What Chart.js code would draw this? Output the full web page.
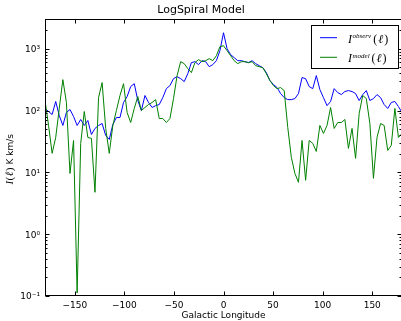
<!DOCTYPE html>
<html>
<head>
<meta charset="utf-8">
<script src="https://cdn.jsdelivr.net/npm/chart.js@4.4.0/dist/chart.umd.min.js"></script>
<style>
  html, body { margin: 0; padding: 0; overflow: hidden; background: #fff; }
  canvas { display: block; }
</style>
</head>
<body>
<canvas id="myChart" width="402" height="321"></canvas>
<script>
// galactic longitude grid (deg)
const longitudes = [
  -180, -176.4, -172.8, -169.2, -165.6, -162, -158.4, -154.8, -151.2, -147.6,
  -144, -140.4, -136.8, -133.2, -129.6, -126, -122.4, -118.8, -115.2, -111.6,
  -108, -104.4, -100.8, -97.2, -93.6, -90, -86.4, -82.8, -79.2, -75.6,
  -72, -68.4, -64.8, -61.2, -57.6, -54, -50.4, -46.8, -43.2, -39.6,
  -36, -32.4, -28.8, -25.2, -21.6, -18, -14.4, -10.8, -7.2, -3.6,
  0, 3.6, 7.2, 10.8, 14.4, 18, 21.6, 25.2, 28.8, 32.4,
  36, 39.6, 43.2, 46.8, 50.4, 54, 57.6, 61.2, 64.8, 68.4,
  72, 75.6, 79.2, 82.8, 86.4, 90, 93.6, 97.2, 100.8, 104.4,
  108, 111.6, 115.2, 118.8, 122.4, 126, 129.6, 133.2, 136.8, 140.4,
  144, 147.6, 151.2, 154.8, 158.4, 162, 165.6, 169.2, 172.8, 176.4,
  180
];

// integrated intensity, K km/s
const observed = [
  108, 96.4, 86.2, 140, 83, 57.3, 93, 104, 80, 57.3,
  71.6, 57.3, 69, 41, 51.3, 57.3, 61.7, 39.5, 34.1, 59.5,
  77.1, 77.1, 135, 168, 244, 272, 145, 100, 175, 135,
  112, 120, 125, 162, 226, 253, 328, 353, 328, 294,
  395, 595, 617, 552, 640, 617, 512, 552, 640, 929,
  1811, 1000, 800, 716, 640, 640, 617, 595, 640, 573,
  532, 494, 410, 305, 263, 235, 188, 162, 150, 150,
  156, 188, 341, 328, 244, 226, 367, 218, 162, 120,
  140, 226, 195, 181, 203, 210, 203, 188, 145, 181,
  210, 145, 156, 181, 162, 125, 108, 135, 140, 116,
  93
];

const model = [
  145, 57.3, 20.3, 36.7, 108, 316, 135, 9.6, 32.8, 0.112,
  29.4, 96.4, 36.7, 35.4, 4.76, 162, 283, 51.3, 20.3, 57.3,
  100, 175, 272, 93, 64, 108, 168, 100, 112, 125,
  135, 150, 74.3, 74.3, 64, 74.3, 156, 367, 617, 573,
  476, 410, 595, 665, 617, 640, 690, 640, 771, 1077,
  1117, 929, 771, 640, 573, 617, 617, 595, 617, 532,
  512, 494, 395, 305, 253, 226, 235, 210, 53.2, 17.5,
  9.6, 6.9, 32.8, 7.43, 32.8, 29.4, 21.8, 57.3, 42.6, 57.3,
  112, 51.3, 64, 64, 71.6, 24.4, 51.3, 16.8, 89.5, 175,
  156, 61.7, 8.0, 36.7, 61.7, 57.3, 22.6, 27.3, 108, 36.7,
  42.6
];

const xTicks = [-150, -100, -50, 0, 50, 100, 150];
const yTicks = [0.1, 1, 10, 100, 1000];
const yTickLabels = ['10\u207B\u00B9', '10\u2070', '10\u00B9', '10\u00B2', '10\u00B3'];
const seriesLabels = ['I^observ(\u2113)', 'I^model(\u2113)'];

const sans = '"DejaVu Sans", sans-serif';
const serif = '"Liberation Serif", "DejaVu Serif", serif';

function toPoints(values) {
  return longitudes.map((lon, i) => ({ x: lon, y: values[i] }));
}

// writes I^sup(l) the way mathtext would, returns end x
function drawMathLabel(ctx, label, x, baseline, size) {
  const m = label.match(/^(\w)\^(\w+)\((.*)\)$/);
  let cx = x;
  ctx.textAlign = 'left';
  ctx.textBaseline = 'alphabetic';
  ctx.font = `italic ${size}px ${serif}`;
  ctx.fillText(m[1], cx, baseline);
  cx += ctx.measureText(m[1]).width + 0.5;
  ctx.font = `italic ${Math.round(size * 0.62)}px ${serif}`;
  ctx.fillText(m[2], cx, baseline - size * 0.4);
  cx += ctx.measureText(m[2]).width + 2;
  ctx.font = `${size}px ${serif}`;
  ctx.fillText('(', cx, baseline);
  cx += ctx.measureText('(').width + 1;
  ctx.font = `italic ${size}px ${serif}`;
  ctx.fillText(m[3], cx, baseline);
  cx += ctx.measureText(m[3]).width + 1;
  ctx.font = `${size}px ${serif}`;
  ctx.fillText(')', cx, baseline);
  return cx + ctx.measureText(')').width;
}

// box, inward ticks on all four sides, y label and legend
const decorations = {
  id: 'decorations',
  afterDatasetsDraw(chart) {
    const { ctx, chartArea: a } = chart;
    const xs = chart.scales.x, ys = chart.scales.y;
    const l = Math.round(a.left) + 0.5;
    const r = Math.round(a.right) - 0.5;
    const t = Math.floor(a.top) + 0.5;
    const b = Math.round(a.bottom) - 0.5;

    ctx.save();
    ctx.strokeStyle = '#000';
    ctx.lineWidth = 1;
    ctx.strokeRect(l, t, r - l, b - t);

    ctx.beginPath();
    xTicks.forEach(v => {
      const px = Math.round(xs.getPixelForValue(v)) + 0.5;
      ctx.moveTo(px, b); ctx.lineTo(px, b - 4);
      ctx.moveTo(px, t); ctx.lineTo(px, t + 4);
    });
    yTicks.forEach(v => {
      const py = Math.round(ys.getPixelForValue(v)) + 0.5;
      ctx.moveTo(l, py); ctx.lineTo(l + 4, py);
      ctx.moveTo(r, py); ctx.lineTo(r - 4, py);
    });
    ctx.stroke();

    ctx.beginPath();
    yTicks.forEach(dec => {
      for (let k = 2; k <= 9; k++) {
        const v = dec * k;
        if (v > ys.max) break;
        const py = Math.round(ys.getPixelForValue(v)) + 0.5;
        ctx.moveTo(l, py); ctx.lineTo(l + 2, py);
        ctx.moveTo(r, py); ctx.lineTo(r - 2, py);
      }
    });
    ctx.stroke();

    // y axis label, rotated
    ctx.save();
    ctx.translate(13, (a.top + a.bottom) / 2 + 1);
    ctx.rotate(-Math.PI / 2);
    ctx.fillStyle = '#000';
    ctx.textBaseline = 'alphabetic';
    ctx.textAlign = 'left';
    let cx = -26;
    ctx.font = `italic 11px ${serif}`;
    ctx.fillText('I', cx, 0); cx += ctx.measureText('I').width + 0.5;
    ctx.font = `11px ${serif}`;
    ctx.fillText('(', cx, 0); cx += ctx.measureText('(').width + 0.5;
    ctx.font = `italic 11px ${serif}`;
    ctx.fillText('\u2113', cx, 0); cx += ctx.measureText('\u2113').width + 0.5;
    ctx.font = `11px ${serif}`;
    ctx.fillText(')', cx, 0); cx += ctx.measureText(')').width + 3;
    ctx.font = `9px ${sans}`;
    ctx.fillText('K km/s', cx, 0);
    ctx.restore();

    // legend
    const lx = 311.5, ly = 25.5, lw = 87, lh = 43;
    ctx.fillStyle = '#fff';
    ctx.fillRect(lx, ly, lw, lh);
    ctx.strokeRect(lx, ly, lw, lh);
    chart.data.datasets.forEach((ds, i) => {
      const rowY = 37.7 + i * 19.6;
      ctx.strokeStyle = ds.borderColor;
      ctx.beginPath();
      ctx.moveTo(320, rowY);
      ctx.lineTo(337, rowY);
      ctx.stroke();
      ctx.fillStyle = '#000';
      drawMathLabel(ctx, ds.label, 348, rowY + 5, 12);
    });
    ctx.restore();
  }
};

const ctx = document.getElementById('myChart').getContext('2d');
new Chart(ctx, {
  type: 'line',
  data: {
    datasets: [
      {
        label: seriesLabels[0],
        data: toPoints(observed),
        borderColor: '#0000ff',
        borderWidth: 1,
        pointRadius: 0,
        tension: 0,
        order: 1
      },
      {
        label: seriesLabels[1],
        data: toPoints(model),
        borderColor: '#008000',
        borderWidth: 1,
        pointRadius: 0,
        tension: 0,
        order: 0
      }
    ]
  },
  options: {
    responsive: false,
    animation: false,
    events: [],
    layout: { padding: 0 },
    plugins: {
      legend: { display: false },
      tooltip: { enabled: false },
      title: {
        display: true,
        text: 'LogSpiral Model',
        color: '#000',
        font: { family: sans, size: 11, weight: 'normal' },
        padding: { top: 4, bottom: 2 }
      }
    },
    scales: {
      x: {
        type: 'linear',
        min: -180,
        max: 180,
        afterBuildTicks: s => { s.ticks = xTicks.map(v => ({ value: v })); },
        afterFit: s => { s.height = 25; },
        grid: { display: false, drawTicks: false },
        border: { display: false },
        ticks: {
          color: '#000',
          font: { family: sans, size: 9 },
          padding: 4,
          maxRotation: 0,
          autoSkip: false,
          callback: v => (v < 0 ? '\u2212' + Math.abs(v) : String(v))
        },
        title: {
          display: true,
          text: 'Galactic Longitude',
          color: '#000',
          font: { family: sans, size: 9 },
          padding: 0
        }
      },
      y: {
        type: 'logarithmic',
        min: 0.1,
        max: 3000,
        afterBuildTicks: s => { s.ticks = yTicks.map(v => ({ value: v })); },
        afterFit: s => { s.width = 45; },
        grid: { display: false, drawTicks: false },
        border: { display: false },
        ticks: {
          color: '#000',
          font: { family: sans, size: 9 },
          padding: 5,
          labelOffset: 1,
          autoSkip: false,
          callback: (v, i) => yTickLabels[i]
        }
      }
    }
  },
  plugins: [decorations]
});
</script>
</body>
</html>
